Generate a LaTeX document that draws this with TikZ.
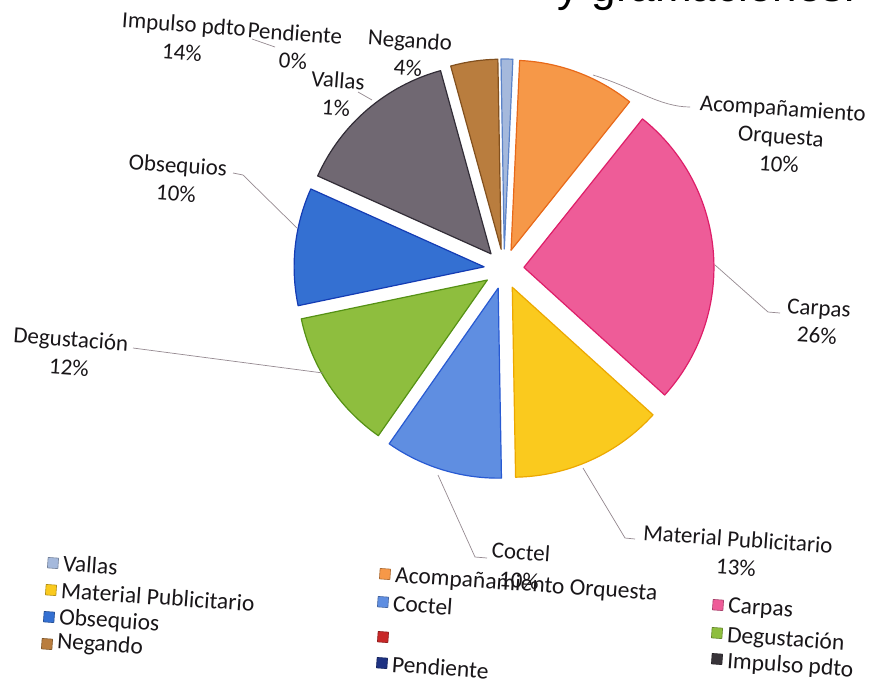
\documentclass[tikz,border=0pt]{standalone}
\usepackage{fontspec}
\setmainfont{Carlito}
\newfontfamily\bodyfont{Liberation Sans}
\definecolor{txt}{RGB}{25,22,25}
\definecolor{lead}{RGB}{150,138,145}
\definecolor{cVal}{RGB}{165,185,220}\definecolor{dVal}{RGB}{90,130,200}
\definecolor{cAco}{RGB}{246,152,72}\definecolor{dAco}{RGB}{232,105,25}
\definecolor{cCar}{RGB}{238,92,152}\definecolor{dCar}{RGB}{222,30,105}
\definecolor{cMat}{RGB}{250,202,30}\definecolor{dMat}{RGB}{236,168,0}
\definecolor{cCoc}{RGB}{95,142,225}\definecolor{dCoc}{RGB}{40,90,210}
\definecolor{cDeg}{RGB}{142,190,62}\definecolor{dDeg}{RGB}{85,145,20}
\definecolor{cObs}{RGB}{52,112,210}\definecolor{dObs}{RGB}{20,60,180}
\definecolor{cImp}{RGB}{112,104,114}\definecolor{dImp}{RGB}{50,45,55}
\definecolor{cNeg}{RGB}{185,125,62}\definecolor{dNeg}{RGB}{130,80,30}
\definecolor{cRed}{RGB}{200,40,40}
\definecolor{cPen}{RGB}{30,50,130}
\newcommand\pieslice[4]{%
  \pgfmathsetmacro\slmid{(#1+#2)/2}%
  \filldraw[fill=#3,draw=#4,line width=1.2pt,line join=round]
    (\slmid:20) -- ++(#1:190) arc[start angle=#1,end angle=#2,radius=190] -- cycle;}
\tikzset{
  lbl/.style={font=\fontsize{23}{28}\selectfont,text=txt,align=center,rotate=-4,inner sep=0pt},
  legtxt/.style={font=\fontsize{23.5}{28}\selectfont,text=txt,anchor=west,rotate=-4,inner sep=0pt},
  legmark/.style={minimum size=10.5pt,inner sep=0pt,rotate=-4,draw=#1!70!black,fill=#1,line width=0.6pt},
  leader/.style={draw=lead,line width=0.7pt}
}
\begin{document}
\begin{tikzpicture}[x=1pt,y=-1pt]
\useasboundingbox (0,0) rectangle (874,681);
\fill[white] (0,0) rectangle (874,681);
% cut-off text at the top
\node[anchor=base east,font=\bodyfont\fontsize{44}{44}\selectfont,inner sep=0pt] (top) at (856,1) {y gramaciones.};
% pie
\begin{scope}[shift={(504,269)},yscale=-1,rotate=-1]
\pieslice{90}{86.4}{cVal}{dVal}
\pieslice{86.4}{50.4}{cAco}{dAco}
\pieslice{50.4}{-43.2}{cCar}{dCar}
\pieslice{-43.2}{-90}{cMat}{dMat}
\pieslice{-90}{-126}{cCoc}{dCoc}
\pieslice{-126}{-169.2}{cDeg}{dDeg}
\pieslice{-169.2}{-205.2}{cObs}{dObs}
\pieslice{-205.2}{-255.6}{cImp}{dImp}
\pieslice{-255.6}{-270}{cNeg}{dNeg}
\end{scope}
% data labels
\node[lbl] (limp) at (183,38) {Impulso pdto\\14\%};
\node[lbl] (lpen) at (294,47) {Pendiente\\0\%};
\node[lbl] (lval) at (337,94) {Vallas\\1\%};
\node[lbl] (lneg) at (409,54) {Negando\\4\%};
\node[lbl] (laco) at (781,136) {Acompañamiento\\Orquesta\\10\%};
\node[lbl] (lcar) at (818,322) {Carpas\\26\%};
\node[lbl] (lmat) at (737,553) {Material Publicitario\\13\%};
\node[lbl] (lcoc) at (520,566) {Coctel\\10\%};
\node[lbl] (ldeg) at (70,353) {Degustación\\12\%};
\node[lbl] (lobs) at (177,179) {Obsequios\\10\%};
% leader lines
\coordinate (pAco) at (593,75); \coordinate (eAco) at (690,107);
\draw[leader] (pAco) .. controls (635,88) and (660,107) .. (eAco);
\coordinate (pCar) at (715,265); \coordinate (kCar) at (768,312); \coordinate (eCar) at (780,313);
\draw[leader] (pCar) -- (kCar) -- (eCar);
\coordinate (pMat) at (583,468); \coordinate (kMat) at (625,538); \coordinate (eMat) at (635,539);
\draw[leader] (pMat) -- (kMat) -- (eMat);
\coordinate (pCoc) at (438,475); \coordinate (kCoc) at (475,557); \coordinate (eCoc) at (487,558);
\draw[leader] (pCoc) -- (kCoc) -- (eCoc);
\coordinate (pDeg) at (323,373); \coordinate (eDeg) at (133,348);
\draw[leader] (pDeg) -- (eDeg);
\coordinate (pObs) at (297,228); \coordinate (kObs) at (243,175); \coordinate (eObs) at (233,173);
\draw[leader] (pObs) -- (kObs) -- (eObs);
\coordinate (pPen) at (275,47); \coordinate (ePen) at (252,39);
\draw[leader] (pPen) -- (ePen);
\coordinate (pVal) at (372,100); \coordinate (eVal) at (358,92);
\draw[leader] (pVal) -- (eVal);
% legend
\node[legmark=cVal] (mVal) at (53,563) {}; \node[legtxt] (tVal) at (63,563) {Vallas};
\node[legmark=cMat] (mMat) at (51,590) {}; \node[legtxt] (tMat) at (61,590) {Material Publicitario};
\node[legmark=cObs] (mObs) at (49,617) {}; \node[legtxt] (tObs) at (59,618) {Obsequios};
\node[legmark=cNeg] (mNeg) at (47,644) {}; \node[legtxt] (tNeg) at (57,642) {Negando};
\node[legmark=cAco] (mAco) at (385,574) {}; \node[legtxt] (tAco) at (395,576) {Acompañamiento Orquesta};
\node[legmark=cCoc] (mCoc) at (383,602) {}; \node[legtxt] (tCoc) at (393,603) {Coctel};
\node[legmark=cRed] (mRed) at (383,637) {};
\node[legmark=cPen] (mPen) at (382,663) {}; \node[legtxt] (tPen) at (392,664) {Pendiente};
\node[legmark=cCar] (mCar) at (718,605) {}; \node[legtxt] (tCar) at (728,607) {Carpas};
\node[legmark=cDeg] (mDeg) at (717,633) {}; \node[legtxt] (tDeg) at (727,636) {Degustación};
\node[legmark=cImp!50!black] (mImp) at (717,659) {}; \node[legtxt] (tImp) at (727,662) {Impulso pdto};
\end{tikzpicture}
\end{document}
